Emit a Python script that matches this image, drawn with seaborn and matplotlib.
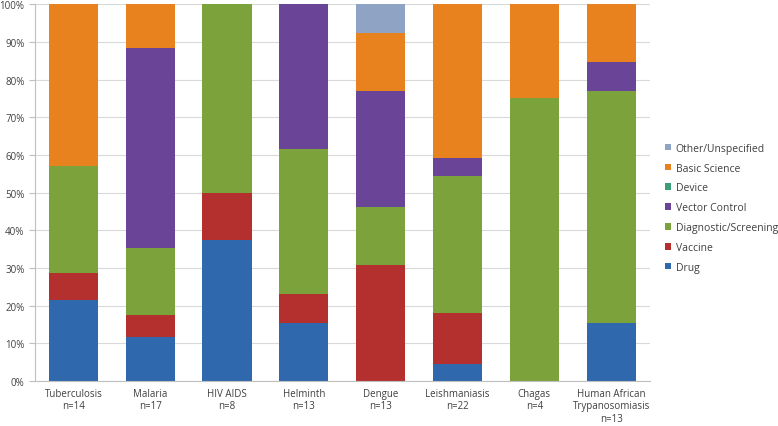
import pandas as pd
import numpy as np
import matplotlib.pyplot as plt
import seaborn as sns
from matplotlib.ticker import PercentFormatter

# data: number of projects per disease and type (bars are shares of n)
diseases = ['Tuberculosis', 'Malaria', 'HIV AIDS', 'Helminth', 'Dengue',
            'Leishmaniasis', 'Chagas', 'Human African\nTrypanosomiasis']
n_totals = [14, 17, 8, 13, 13, 22, 4, 13]

drug = [3, 2, 3, 2, 0, 1, 0, 2]
vaccine = [1, 1, 1, 1, 4, 3, 0, 0]
diagnostic = [4, 3, 4, 5, 2, 8, 3, 8]
vector_control = [0, 9, 0, 5, 4, 1, 0, 1]
device = [0, 0, 0, 0, 0, 0, 0, 0]
basic_science = [6, 2, 0, 0, 2, 9, 1, 2]
other = [0, 0, 0, 0, 1, 0, 0, 0]

types = ['Other/Unspecified', 'Basic Science', 'Device', 'Vector Control',
         'Diagnostic/Screening', 'Vaccine', 'Drug']
colors = ['#8fa3c4', '#e8821f', '#3a9e78', '#6a4496', '#7ba23b', '#b3302e', '#2f68ad']

labels = [f'{d}\nn={n}' for d, n in zip(diseases, n_totals)]
series = {'Drug': drug, 'Vaccine': vaccine, 'Diagnostic/Screening': diagnostic,
          'Vector Control': vector_control, 'Device': device,
          'Basic Science': basic_science, 'Other/Unspecified': other}

rows = []
for t, vals in series.items():
    for lab, v in zip(labels, vals):
        rows.append({'Disease': lab, 'Type': t, 'Count': v})
df = pd.DataFrame(rows)
df['Disease'] = pd.Categorical(df['Disease'], categories=labels, ordered=True)

sns.set_style('white')
plt.rcParams['font.family'] = ['Open Sans', 'DejaVu Sans']

fig = plt.figure(figsize=(7.78, 4.27), dpi=100)
ax = fig.add_axes([0.045, 0.105, 0.79, 0.883])

sns.histplot(data=df, x='Disease', hue='Type', weights='Count',
             hue_order=types, palette=colors, multiple='fill',
             discrete=True, shrink=0.64, linewidth=0, alpha=1, ax=ax)

ax.set_ylim(0, 1)
ax.set_xlim(-0.5, len(labels) - 0.5)
ax.yaxis.set_major_formatter(PercentFormatter(1.0, decimals=0))
ax.set_yticks(np.arange(0, 1.01, 0.1))
ax.yaxis.grid(True, color='#d9d9d9', linewidth=0.8)
ax.set_axisbelow(True)
ax.set_xlabel('')
ax.set_ylabel('')
for s in ['top', 'right']:
    ax.spines[s].set_visible(False)
ax.spines['left'].set_color('#bfbfbf')
ax.spines['bottom'].set_color('#bfbfbf')
ax.tick_params(axis='y', which='major', length=4, color='#bfbfbf',
               labelsize=7, labelcolor='#404040', left=True)
ax.tick_params(axis='x', length=0, labelsize=7, labelcolor='#404040', pad=5)
for t in ax.get_xticklabels():
    t.set_linespacing(1.15)

sns.move_legend(ax, 'center left', bbox_to_anchor=(1.01, 0.46), frameon=False,
                title=None, fontsize=7.5, handlelength=0.6, handleheight=0.6,
                labelspacing=0.85, handletextpad=0.4)
for txt in ax.get_legend().get_texts():
    txt.set_color('#404040')

fig.savefig('out.png', dpi=100)
